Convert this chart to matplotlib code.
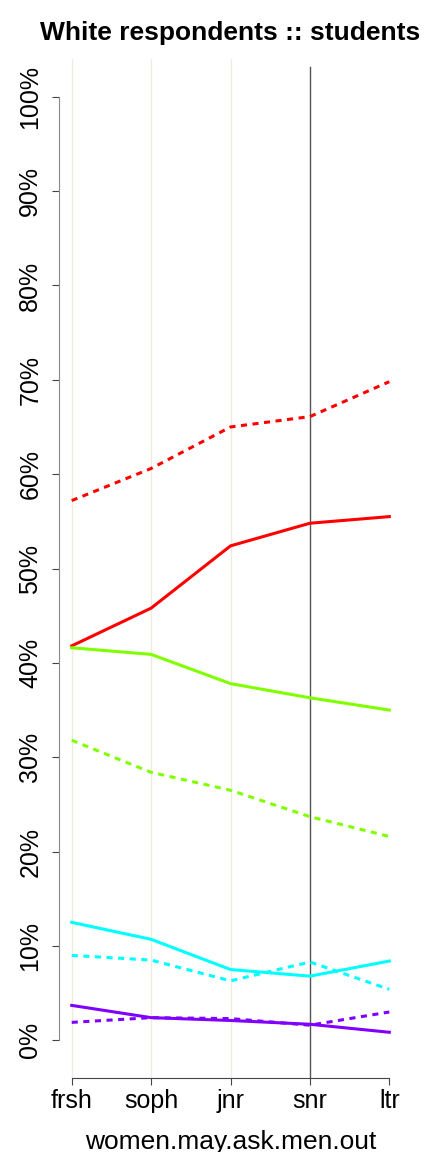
import numpy as np
import matplotlib.pyplot as plt

plt.rcParams['font.family'] = ['Liberation Sans', 'DejaVu Sans']

years = ['frsh', 'soph', 'jnr', 'snr', 'ltr']
x = np.arange(1, 6)

# percentages
red_solid = [41.8, 45.8, 52.4, 54.8, 55.5]
red_dot = [57.2, 60.6, 65.0, 66.1, 69.8]
green_solid = [41.6, 40.9, 37.8, 36.3, 35.0]
green_dot = [31.8, 28.4, 26.5, 23.7, 21.6]
cyan_solid = [12.5, 10.7, 7.5, 6.8, 8.4]
cyan_dot = [9.0, 8.5, 6.3, 8.3, 5.4]
purple_solid = [3.7, 2.4, 2.1, 1.7, 0.85]
purple_dot = [1.9, 2.4, 2.3, 1.6, 3.0]

fig = plt.figure(figsize=(4.32, 11.52), dpi=100)
ax = fig.add_axes([0.1366, 0.0642, 0.794, 0.8846])

# vertical guide lines
for xv in [1, 2, 3]:
    ax.axvline(xv, color='#efecdc', lw=1, zorder=0)
ax.axvline(4, color='#555555', lw=1, ymax=0.992, zorder=0)

dot = (0, (2.0, 1.8))
lw = 2.2
ax.plot(x, red_dot, color='#ff0000', lw=lw, ls=dot)
ax.plot(x, red_solid, color='#ff0000', lw=lw)
ax.plot(x, green_solid, color='#80ff00', lw=lw)
ax.plot(x, green_dot, color='#80ff00', lw=lw, ls=dot)
ax.plot(x, cyan_solid, color='#00ffff', lw=lw)
ax.plot(x, cyan_dot, color='#00ffff', lw=lw, ls=dot)
ax.plot(x, purple_dot, color='#8000ff', lw=lw, ls=dot)
ax.plot(x, purple_solid, color='#8000ff', lw=lw)

ax.set_xlim(0.84, 5.16)
ax.set_ylim(-4, 104)

ax.set_xticks(x)
ax.set_xticklabels(years, fontsize=18)
yt = np.arange(0, 101, 10)
ax.set_yticks(yt)
ax.set_yticklabels([f'{v}%' for v in yt], fontsize=18, rotation=90, va='center')

for s in ['top', 'right']:
    ax.spines[s].set_visible(False)
ax.spines['left'].set_bounds(0, 100)
ax.spines['bottom'].set_bounds(1, 5)
ax.spines['left'].set_color('#888888')
ax.spines['bottom'].set_color('#444444')
ax.tick_params(axis='y', length=5, color='#444444', pad=7)
ax.tick_params(axis='x', length=5, color='#444444', pad=3)

ax.set_xlabel('women.may.ask.men.out', fontsize=19, labelpad=12)
ax.set_title('White respondents :: students', fontsize=19, fontweight='bold', pad=14)

fig.savefig('out.png', dpi=100)
